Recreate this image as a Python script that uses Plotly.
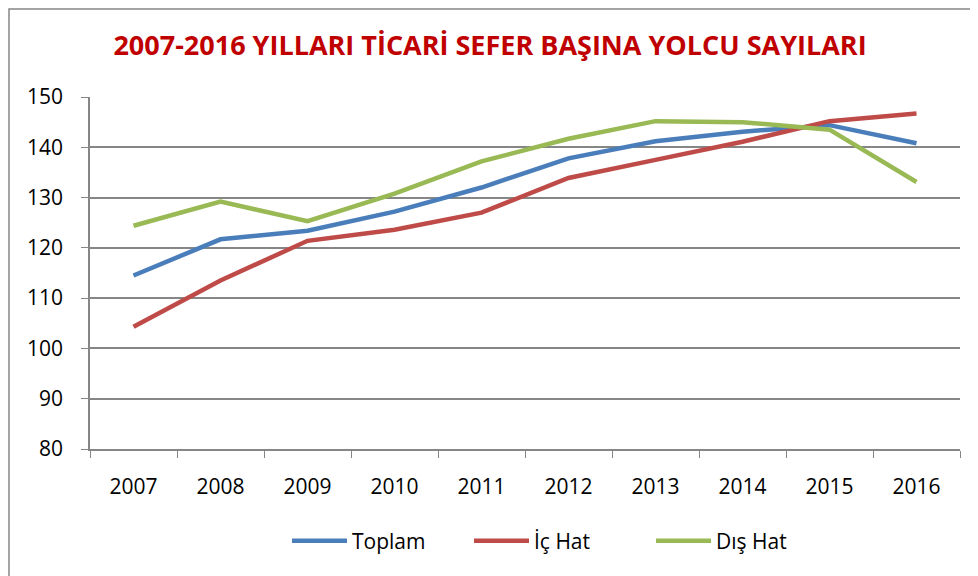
import plotly.graph_objects as go

years = ["2007", "2008", "2009", "2010", "2011", "2012", "2013", "2014", "2015", "2016"]
toplam = [114.5, 121.7, 123.4, 127.2, 132.0, 137.8, 141.2, 143.1, 144.4, 140.8]
ic_hat = [104.3, 113.5, 121.4, 123.6, 127.0, 133.9, 137.5, 141.1, 145.2, 146.7]
dis_hat = [124.4, 129.2, 125.3, 130.8, 137.2, 141.7, 145.2, 145.0, 143.5, 133.1]

# the page puts the figure 8px in from the top-left corner
OFF = 8
W, H = 978 - OFF, 576 - OFF
L, R, T, B = 90 - OFF, 18, 97 - OFF, 576 - 449

fig = go.Figure()
for name, vals, color in [("Toplam", toplam, "#4A7EBB"),
                          ("İç Hat", ic_hat, "#BE4B48"),
                          ("Dış Hat", dis_hat, "#98B954")]:
    fig.add_trace(go.Scatter(x=years, y=vals, mode="lines", name=name,
                             line=dict(color=color, width=4.5)))

pw, ph = W - L - R, H - T - B
def px(x):
    return (x - OFF - L) / pw
def py(y):
    return (H - B - (y - OFF)) / ph

# outer chart frame
fig.add_shape(type="rect", xref="paper", yref="paper",
              x0=px(9), x1=px(976), y0=py(590), y1=py(9),
              line=dict(color="#878787", width=1.5), layer="below")

fig.update_layout(
    width=W, height=H,
    margin=dict(l=L, r=R, t=T, b=B, autoexpand=False),
    paper_bgcolor="white", plot_bgcolor="white",
    font=dict(family="Open Sans, sans-serif", size=22, color="black"),
    title=dict(text="<b>2007-2016 YILLARI TİCARİ SEFER BAŞINA YOLCU SAYILARI</b>",
               x=(490 - OFF) / W, xanchor="center", y=1 - (46 - OFF) / H, yanchor="middle",
               font=dict(size=27, color="#C00000", family="Open Sans, sans-serif")),
    xaxis=dict(type="category", range=[-0.5, 9.5], tickson="boundaries",
               ticks="outside", ticklen=7,
               tickcolor="#868686", showline=True, linecolor="#868686", linewidth=1.5,
               showgrid=False, tickfont=dict(size=21), ticklabelstandoff=18),
    yaxis=dict(range=[80, 150], dtick=10, ticks="outside", ticklen=7,
               tickcolor="#868686", showline=True, linecolor="#868686", linewidth=1.5,
               showgrid=True, gridcolor="#868686", gridwidth=1.5,
               tickfont=dict(size=21), zeroline=False, ticklabelstandoff=14),
    legend=dict(orientation="h", x=px(287), xanchor="left", y=py(541), yanchor="middle",
                font=dict(size=21), itemwidth=55, entrywidth=112, entrywidthmode="pixels",
                traceorder="normal"),
    showlegend=True,
)

fig.write_html("out.html")
